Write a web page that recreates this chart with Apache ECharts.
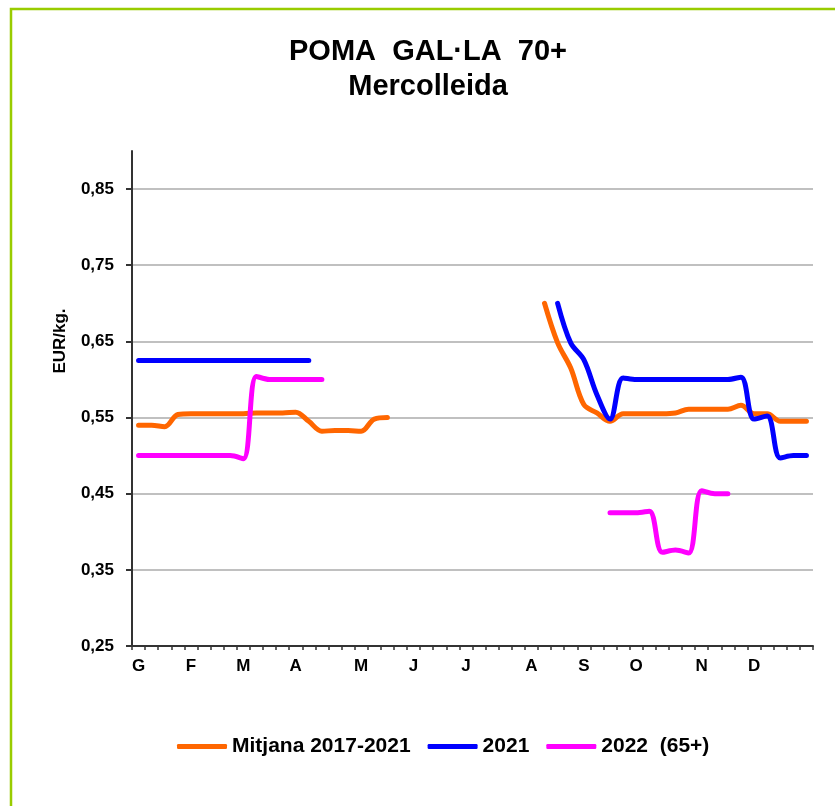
<!DOCTYPE html>
<html>
<head>
<meta charset="utf-8">
<script src="https://cdn.jsdelivr.net/npm/echarts@6/dist/echarts.min.js"></script>
<style>
html,body{margin:0;padding:0;background:#fff;}
#chart{width:835px;height:806px;}
</style>
</head>
<body>
<div id="chart"></div>
<script>
// Weekly categories (52 weeks); month initials at the first week of each month
const monthLabels = ['G','','','','F','','','','M','','','','A','','','','','M','','','','J','','','','J','','','','','A','','','','S','','','','O','','','','','N','','','','D','','','',''];

const yTicks = [0.25, 0.35, 0.45, 0.55, 0.65, 0.75, 0.85];

const mitjana = [0.54,0.54,0.538,0.554,0.555,0.555,0.555,0.555,0.555,0.556,0.556,0.556,0.557,0.545,0.532,0.533,0.533,0.532,0.548,0.55,
  null,null,null,null,null,null,null,null,null,null,null,
  0.70,0.648,0.615,0.567,0.556,0.545,0.555,0.555,0.555,0.555,0.556,0.561,0.561,0.561,0.561,0.566,0.555,0.555,0.545,0.545,0.545];

const y2021 = [0.625,0.625,0.625,0.625,0.625,0.625,0.625,0.625,0.625,0.625,0.625,0.625,0.625,0.625,
  null,null,null,null,null,null,null,null,null,null,null,null,null,null,null,null,null,null,
  0.70,0.648,0.626,0.58,0.548,0.602,0.60,0.60,0.60,0.60,0.60,0.60,0.60,0.60,0.603,0.548,0.552,0.497,0.50,0.50];

const y2022 = [0.50,0.50,0.50,0.50,0.50,0.50,0.50,0.50,0.496,0.604,0.60,0.60,0.60,0.60,0.60,
  null,null,null,null,null,null,null,null,null,null,null,null,null,null,null,null,null,null,null,null,null,
  0.425,0.425,0.425,0.427,0.373,0.376,0.372,0.454,0.45,0.45,
  null,null,null,null,null,null];

const seriesNames = ['Mitjana 2017-2021', '2021', '2022  (65+)'];
const seriesColors = ['#FF6600', '#0000FF', '#FF00FF'];
const seriesData = [mitjana, y2021, y2022];

const chart = echarts.init(document.getElementById('chart'), null, {renderer: 'canvas'});
const fontFamily = '"Liberation Sans", Arial, sans-serif';

chart.setOption({
  backgroundColor: '#ffffff',
  animation: false,
  graphic: [{
    type: 'rect',
    shape: {x: 11, y: 9, width: 840, height: 820},
    style: {fill: 'none', stroke: '#99CC00', lineWidth: 2.5},
    silent: true
  }, {
    type: 'text',
    x: 60,
    y: 341,
    rotation: Math.PI / 2,
    style: {text: 'EUR/kg.', fontFamily: fontFamily, fontSize: 17, fontWeight: 'bold', fill: '#000',
      align: 'center', verticalAlign: 'middle'},
    silent: true
  }],
  title: {
    text: 'POMA  GAL·LA  70+\nMercolleida',
    left: 423,
    top: 29,
    textAlign: 'center',
    textStyle: {fontFamily: fontFamily, fontSize: 29, fontWeight: 'bold', color: '#000', lineHeight: 35}
  },
  legend: {
    data: seriesNames.map(n => ({name: n, icon: 'roundRect'})),
    left: 172,
    top: 731,
    itemWidth: 50,
    itemHeight: 5,
    itemGap: 17,
    textStyle: {fontFamily: fontFamily, fontSize: 21, fontWeight: 'bold', color: '#000'}
  },
  grid: {left: 132, right: 22, top: 151, bottom: 160, containLabel: false},
  xAxis: {
    type: 'category',
    data: monthLabels,
    boundaryGap: true,
    axisLine: {lineStyle: {color: '#333', width: 2}},
    axisTick: {show: true, interval: 0, length: 4, lineStyle: {color: '#333', width: 1.5}},
    axisLabel: {interval: 0, margin: 12, fontFamily: fontFamily, fontSize: 17, fontWeight: 'bold', color: '#000'},
    splitLine: {show: false}
  },
  yAxis: {
    type: 'value',
    min: 0.25,
    max: 0.9,
    interval: 0.05,
    axisLine: {show: true, lineStyle: {color: '#333', width: 2}},
    axisTick: {show: true, length: 6, customValues: yTicks, lineStyle: {color: '#333', width: 2}},
    axisLabel: {customValues: yTicks, margin: 18, fontFamily: fontFamily, fontSize: 17, fontWeight: 'bold', color: '#000',
      formatter: v => v.toFixed(2).replace('.', ',')},
    splitLine: {show: true, lineStyle: {color: '#C0C0C0', width: 2}}
  },
  series: seriesData.map((d, i) => ({
    name: seriesNames[i],
    type: 'line',
    data: d,
    smooth: 0.35,
    symbol: 'none',
    connectNulls: false,
    color: seriesColors[i],
    lineStyle: {color: seriesColors[i], width: 5, cap: 'round', join: 'round'},
    z: 2 + i
  }))
});
</script>
</body>
</html>
